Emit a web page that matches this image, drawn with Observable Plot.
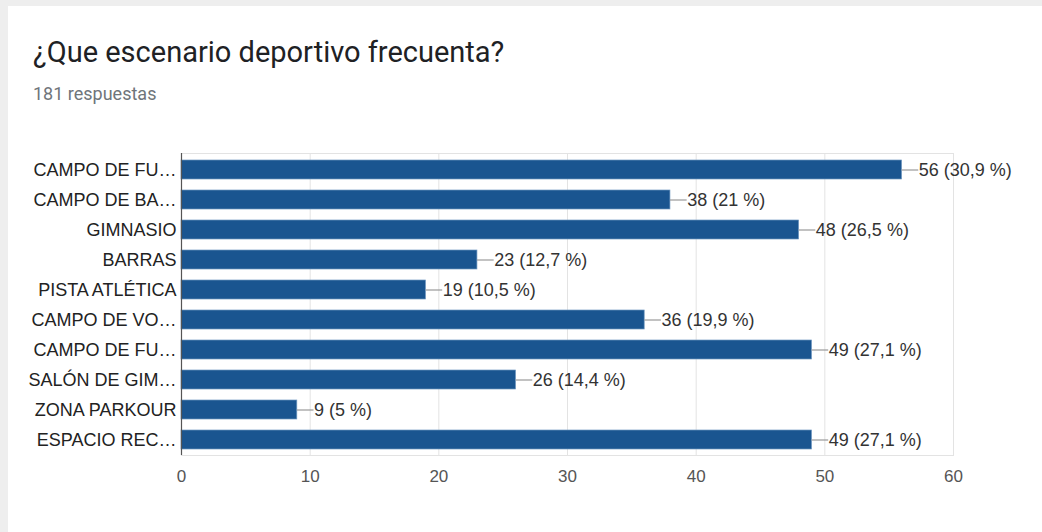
<!DOCTYPE html>
<html>
<head>
<meta charset="utf-8">
<script src="https://cdn.jsdelivr.net/npm/d3@7"></script>
<script src="https://cdn.jsdelivr.net/npm/@observablehq/plot@0.6"></script>
<style>
  html, body { margin: 0; padding: 0; background: #eeeeee; }
  body { width: 1042px; height: 532px; overflow: hidden; position: relative; }
  #card { position: absolute; left: 8px; top: 6px; right: 0; bottom: 0; background: #ffffff; }
  #title { position: absolute; left: 25px; top: 29px; font-family: Roboto, sans-serif; font-size: 29px; color: #202124; white-space: nowrap; }
  #sub { position: absolute; left: 25px; top: 77px; font-family: Roboto, sans-serif; font-size: 18px; color: #70757a; white-space: nowrap; }
  #chart { position: absolute; left: -8px; top: 118px; }
</style>
</head>
<body>
<div id="card">
  <div id="title">¿Que escenario deportivo frecuenta?</div>
  <div id="sub">181 respuestas</div>
  <div id="chart"></div>
</div>
<script>
const labels = ["CAMPO DE FU…", "CAMPO DE BA…", "GIMNASIO", "BARRAS", "PISTA ATLÉTICA", "CAMPO DE VO…", "CAMPO DE FU…", "SALÓN DE GIM…", "ZONA PARKOUR", "ESPACIO REC…"];
const counts = [56, 38, 48, 23, 19, 36, 49, 26, 9, 49];
const percents = ["30,9", "21", "26,5", "12,7", "10,5", "19,9", "27,1", "14,4", "5", "27,1"];
const xTicks = [0, 10, 20, 30, 40, 50, 60];

const data = labels.map((l, i) => ({idx: i, label: l, value: counts[i], pct: percents[i]}));

const chart = Plot.plot({
  width: 1042,
  height: 376,
  marginLeft: 181,
  marginRight: 89,
  marginTop: 29,
  marginBottom: 45,
  style: {fontFamily: "'Liberation Sans', Arial, sans-serif", fontSize: "18px", color: "#222", background: "transparent"},
  x: {domain: [0, 60], ticks: xTicks, label: null},
  y: {domain: d3.range(labels.length), paddingInner: 0.37, paddingOuter: 0.185, label: null},
  marks: [
    Plot.gridX(xTicks, {stroke: "#e3e3e3", strokeOpacity: 1}),
    Plot.frame({stroke: "#e3e3e3"}),
    Plot.barX(data, {x: "value", y: "idx", fill: "#1a5590", stroke: "#6f97c0", strokeWidth: 0.7}),
    Plot.ruleY(data, {y: "idx", x1: "value", x2: d => d.value + 1.3, stroke: "#9a9a9a", strokeWidth: 1.2}),
    Plot.text(data, {x: d => d.value + 1.3, y: "idx", text: d => `${d.value} (${d.pct} %)`, textAnchor: "start", dx: 0, fill: "#333", fontSize: 18}),
    Plot.ruleX([0], {stroke: "#555", strokeWidth: 1.2}),
    Plot.axisY({tickSize: 0, tickPadding: 5, tickFormat: i => labels[i], fontSize: 18, fill: "#222"}),
    Plot.axisX({ticks: xTicks, tickSize: 0, tickPadding: 14, fontSize: 17, fill: "#555"})
  ]
});
document.getElementById("chart").appendChild(chart);
</script>
</body>
</html>
